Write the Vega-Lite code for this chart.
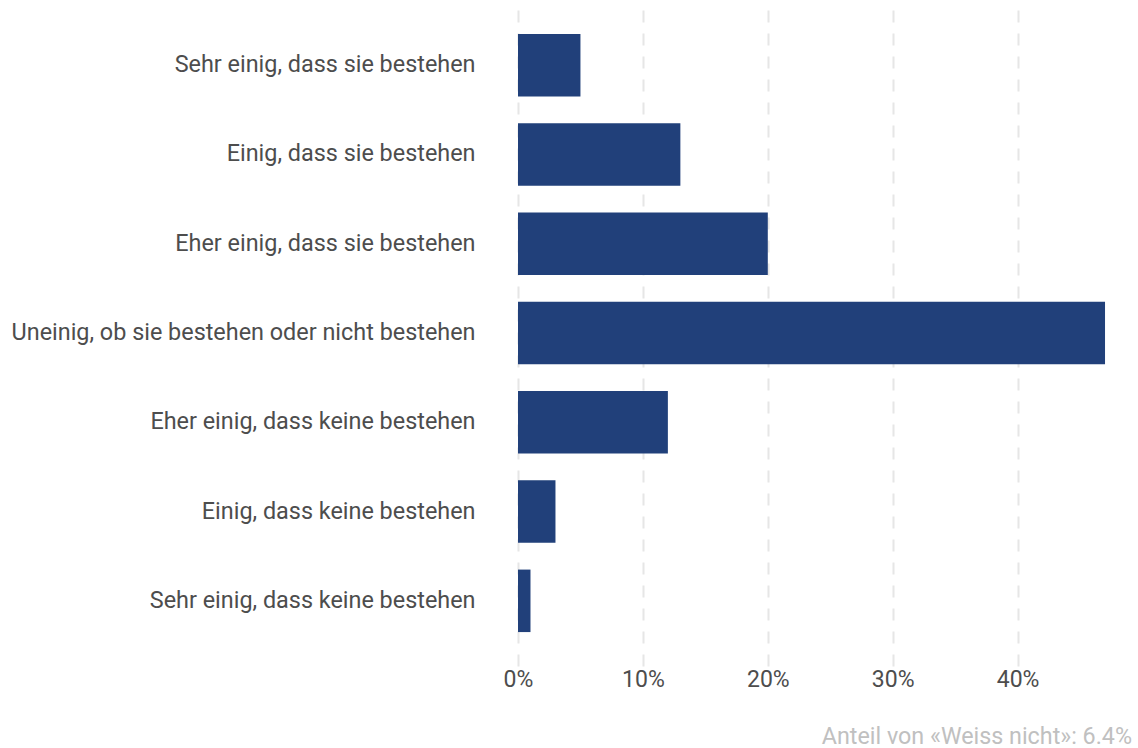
{
  "$schema": "https://vega.github.io/schema/vega-lite/v6.json",
  "width": 612,
  "height": 666,
  "autosize": "none",
  "padding": {"left": 518, "top": 0, "right": 8, "bottom": 82},
  "background": "white",
  "config": {"view": {"stroke": null}, "font": "Roboto"},
  "title": {
    "text": "Anteil von «Weiss nicht»: 6.4%",
    "orient": "bottom",
    "anchor": "end",
    "font": "Roboto",
    "fontSize": 23.3,
    "fontWeight": "normal",
    "color": "#c0c0c0",
    "offset": 35,
    "dx": 2
  },
  "data": {
    "values": [
      {"kategorie": "Sehr einig, dass sie bestehen", "anteil": 5},
      {"kategorie": "Einig, dass sie bestehen", "anteil": 13},
      {"kategorie": "Eher einig, dass sie bestehen", "anteil": 20},
      {"kategorie": "Uneinig, ob sie bestehen oder nicht bestehen", "anteil": 47},
      {"kategorie": "Eher einig, dass keine bestehen", "anteil": 12},
      {"kategorie": "Einig, dass keine bestehen", "anteil": 3},
      {"kategorie": "Sehr einig, dass keine bestehen", "anteil": 1}
    ]
  },
  "mark": {"type": "bar", "color": "#21407a"},
  "encoding": {
    "y": {
      "field": "kategorie",
      "type": "nominal",
      "sort": null,
      "title": null,
      "scale": {"paddingInner": 0.3, "paddingOuter": 0.38},
      "axis": {
        "ticks": false,
        "domain": false,
        "labelFont": "Roboto",
        "labelFontSize": 23.4,
        "labelColor": "#4d4d4d",
        "labelPadding": 43,
        "labelLimit": 600
      }
    },
    "x": {
      "field": "anteil",
      "type": "quantitative",
      "title": null,
      "scale": {"domain": [0, 49], "nice": false},
      "axis": {
        "values": [0, 10, 20, 30, 40],
        "labelExpr": "datum.value + '%'",
        "labelFlush": false,
        "ticks": false,
        "domain": false,
        "grid": true,
        "gridColor": "#e6e6e6",
        "gridWidth": 2,
        "gridDash": [12, 11],
        "labelFont": "Roboto",
        "labelFontSize": 23,
        "labelColor": "#4d4d4d",
        "labelPadding": 2
      }
    }
  }
}
